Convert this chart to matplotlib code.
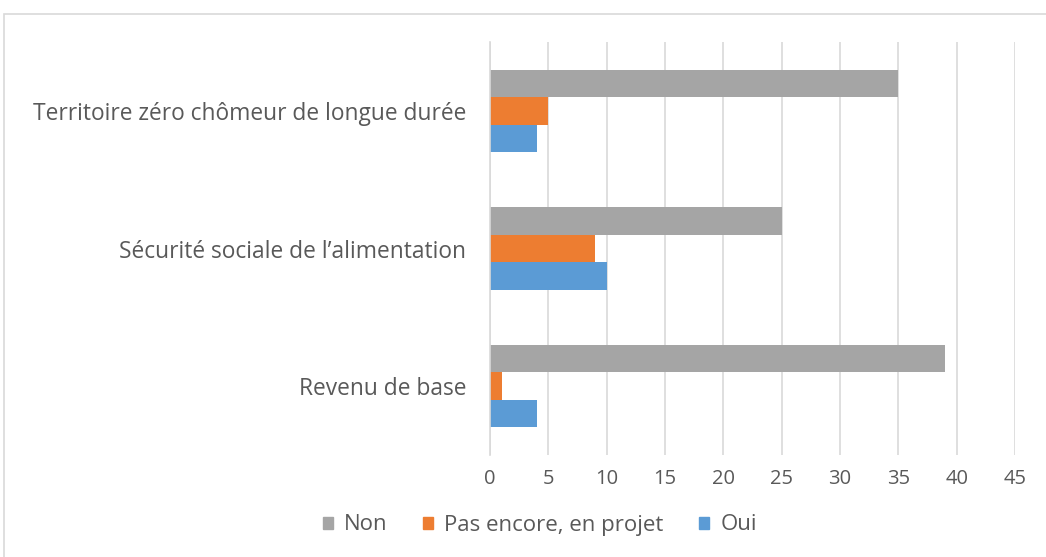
import matplotlib
matplotlib.use("Agg")
import matplotlib.pyplot as plt
import numpy as np
from matplotlib.patches import Rectangle, Patch

categories = ["Revenu de base", "Sécurité sociale de l\u2019alimentation", "Territoire zéro chômeur de longue durée"]
oui = [4, 10, 4]
pas_encore = [1, 9, 5]
non = [39, 25, 35]
xticks = list(range(0, 50, 5))

plt.rcParams['font.family'] = ['Open Sans', 'DejaVu Sans']
fig = plt.figure(figsize=(10.46, 5.57), dpi=100)
fig.patches.append(Rectangle((4/1046, -0.05), 1.1, 1 - 14/557 + 0.05, transform=fig.transFigure,
                             fill=False, edgecolor='#d9d9d9', linewidth=1.2))
ax = fig.add_axes([490/1046, 1 - 455/557, (1015 - 490)/1046, (455 - 42)/557])

y = np.arange(len(categories))
h = 0.2
ax.barh(y - h, oui, height=h, color='#5b9bd5', label='Oui', zorder=3)
ax.barh(y, pas_encore, height=h, color='#ed7d31', label='Pas encore, en projet', zorder=3)
ax.barh(y + h, non, height=h, color='#a5a5a5', label='Non', zorder=3)

ax.set_xlim(0, 45)
ax.set_ylim(-0.5, 2.5)
ax.set_xticks(xticks)
ax.set_xticklabels([str(t) for t in xticks])
ax.set_yticks(y)
ax.set_yticklabels(categories)
ax.grid(axis='x', color='#d9d9d9', linewidth=1.2, zorder=0)
for s in ['top', 'right', 'bottom']:
    ax.spines[s].set_visible(False)
ax.spines['left'].set_color('#d9d9d9')
ax.spines['left'].set_linewidth(1.2)
ax.spines['left'].set_zorder(4)
ax.tick_params(axis='both', length=0, colors='#595959')
ax.tick_params(axis='x', pad=10, labelsize=14.5)
ax.tick_params(axis='y', pad=17, labelsize=16.4)

handles = [Patch(color='#a5a5a5'), Patch(color='#ed7d31'), Patch(color='#5b9bd5')]
labels = ['Non', 'Pas encore, en projet', 'Oui']
leg = fig.legend(handles, labels, loc='center', bbox_to_anchor=(540/1046, 1 - 525/557), ncol=3,
                 frameon=False, fontsize=16, handlelength=0.45, handleheight=0.45,
                 handletextpad=0.5, columnspacing=1.6)
for t in leg.get_texts():
    t.set_color('#595959')

fig.savefig('out.png', dpi=100)
